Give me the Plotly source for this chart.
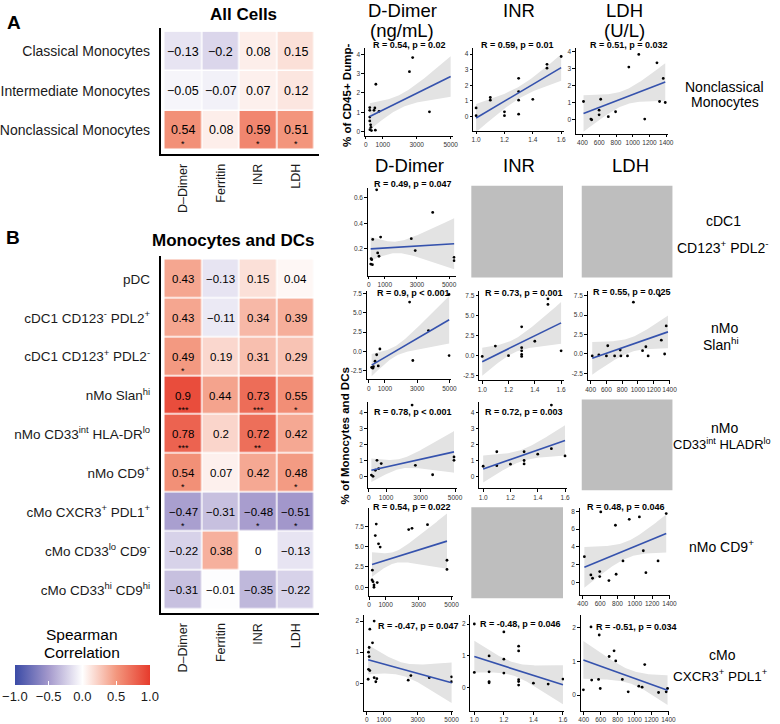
import numpy as np
import plotly.graph_objects as go

W, H = 780, 724
FONT = "Liberation Sans, Arial, Helvetica, sans-serif"

# ------------------------------------------------------------------ heatmap data
markers = ["D–Dimer", "Ferritin", "INR", "LDH"]

all_rows = ["Classical Monocytes", "Intermediate Monocytes", "Nonclassical Monocytes"]
all_r = [[-0.13, -0.2, 0.08, 0.15],
         [-0.05, -0.07, 0.07, 0.12],
         [0.54, 0.08, 0.59, 0.51]]
all_sig = [["", "", "", ""],
           ["", "", "", ""],
           ["*", "", "*", "*"]]

mono_rows = ["pDC",
             "cDC1 CD123<sup>-</sup> PDL2<sup>+</sup>",
             "cDC1 CD123<sup>+</sup> PDL2<sup>-</sup>",
             "nMo Slan<sup>hi</sup>",
             "nMo CD33<sup>int</sup> HLA-DR<sup>lo</sup>",
             "nMo CD9<sup>+</sup>",
             "cMo CXCR3<sup>+</sup> PDL1<sup>+</sup>",
             "cMo CD33<sup>lo</sup> CD9<sup>-</sup>",
             "cMo CD33<sup>hi</sup> CD9<sup>hi</sup>"]
mono_r = [[0.43, -0.13, 0.15, 0.04],
          [0.43, -0.11, 0.34, 0.39],
          [0.49, 0.19, 0.31, 0.29],
          [0.9, 0.44, 0.73, 0.55],
          [0.78, 0.2, 0.72, 0.42],
          [0.54, 0.07, 0.42, 0.48],
          [-0.47, -0.31, -0.48, -0.51],
          [-0.22, 0.38, 0, -0.13],
          [-0.31, -0.01, -0.35, -0.22]]
mono_sig = [["", "", "", ""],
            ["", "", "", ""],
            ["*", "", "", ""],
            ["***", "", "***", "*"],
            ["***", "", "**", ""],
            ["*", "", "", "*"],
            ["*", "", "*", "*"],
            ["", "", "", ""],
            ["", "", "", ""]]

cbar_ticks = [-1.0, -0.5, 0.0, 0.5, 1.0]

# ------------------------------------------------------------------ scatter data
# Nonclassical monocytes (% of CD45+ Dump-)
nc_dd_x = [230, 530, 230, 480, 230, 230, 280, 300, 240, 330, 560, 590, 780, 2570, 2760, 3750]
nc_dd_y = [1.24, 1.22, 1.1, 1.1, 0.75, 0.55, 0.35, 0.22, 0.1, 0.05, 0.07, 2.45, 1.05, 3.1, 3.83, 1.02]
nc_inr_x = [1.0, 1.0, 1.1, 1.1, 1.2, 1.2, 1.3, 1.3, 1.3, 1.3, 1.4, 1.5, 1.5, 1.6]
nc_inr_y = [0.55, 0.05, 1.22, 1.05, 0.3, 0.05, 2.45, 1.6, 1.05, 0.15, 1.1, 3.35, 3.1, 3.85]
nc_ldh_x = [412, 500, 510, 617, 598, 598, 708, 795, 953, 1072, 1143, 1289, 1320, 1364, 1388]
nc_ldh_y = [1.08, 0.05, 0.01, 1.21, 0.57, 0.3, 0.19, 0.48, 3.09, 3.83, 0.05, 3.34, 1.08, 2.43, 1.02]
# cDC1 CD123+ PDL2-
cdc_dd_x = [492, 246, 738, 554, 636, 144, 185, 123, 226, 2646, 2892, 3979, 5313, 5313]
cdc_dd_y = [0.664, 0.274, 0.293, 0.168, 0.142, 0.123, 0.115, 0.081, 0.076, 0.28, 0.187, 0.486, 0.134, 0.107]
# nMo Slan hi
sl_dd_x = [4980, 2530, 3700, 690, 490, 390, 2730, 590, 180, 290, 4980, 250]
sl_dd_y = [7.4, 6.4, 2.7, 0.3, -0.45, -1.3, -1.2, -1.9, -2.1, -2.0, -0.56, -2.2]
sl_inr_x = [1.0, 1.1, 1.2, 1.3, 1.3, 1.3, 1.3, 1.3, 1.4, 1.5, 1.5, 1.6]
sl_inr_y = [-0.1, 1.2, 0.0, 3.6, 1.0, 0.6, 0.15, -0.1, 1.8, 7.1, 6.4, 0.6]
sl_ldh_x = [420, 504, 600, 617, 704, 775, 783, 867, 942, 1058, 1100, 1129, 1275, 1296, 1338, 1358]
sl_ldh_y = [-0.25, -0.13, -0.25, 1.06, -0.25, 0.5, -0.25, -0.25, 6.65, 0.42, 0.93, -0.25, 7.5, 1.78, 0.0, 3.6]
# nMo CD33int HLADRlo
c33_dd_x = [2510, 247, 152, 475, 722, 380, 570, 2700, 3700, 4940, 4940]
c33_dd_y = [4.46, 0.0, 0.08, 1.0, 0.8, 0.38, 0.48, 0.69, 0.1, 1.21, 1.0]
c33_inr_x = [1.0, 1.1, 1.1, 1.2, 1.3, 1.3, 1.3, 1.4, 1.5, 1.5, 1.6]
c33_inr_y = [0.63, 1.54, 0.67, 0.76, 1.54, 0.99, 0.78, 1.39, 4.46, 1.73, 1.28]
# nMo CD9+
cd9_dd_x = [433, 374, 571, 669, 2400, 2600, 3540, 177, 236, 492, 197, 295, 295, 4720, 4720]
cd9_dd_y = [7.77, 6.36, 5.34, 4.94, 7.09, 7.25, 7.69, 0.89, 0.69, 0.57, 2.1, 0.28, 0.0, 3.32, 2.19]
cd9_ldh_x = [419, 494, 513, 596, 596, 608, 702, 777, 785, 864, 936, 1053, 1098, 1128, 1268, 1362]
cd9_ldh_y = [2.88, 0.82, 0.45, 1.2, 0.64, 7.93, 0.19, 6.43, 0.9, 2.4, 7.1, 7.37, 3.55, 1.08, 2.4, 7.74]
# cMo CXCR3+ PDL1+
cmo_dd_x = [177, 433, 335, 138, 98, 138, 98, 177, 79, 433, 591, 531, 2441, 2598, 3681, 5000, 5000]
cmo_dd_y = [1.74, 2.0, 1.3, 1.15, 1.0, 0.86, 0.45, 0.41, 0.13, 0.18, 0.15, 0.05, 0.1, 0.25, 0.18, 0.21, 0.05]
cmo_inr_x = [1.0, 1.0, 1.1, 1.1, 1.1, 1.1, 1.2, 1.2, 1.2, 1.3, 1.3, 1.3, 1.3, 1.3, 1.4, 1.5, 1.6]
cmo_inr_y = [0.47, 2.0, 0.99, 0.49, 0.18, 0.14, 1.75, 0.89, 0.45, 1.3, 1.15, 0.24, 0.18, 0.07, 0.13, 0.1, 0.26]
cmo_ldh_x = [396, 486, 494, 583, 575, 595, 700, 758, 778, 856, 925, 1120, 1050, 1089, 1373, 1389, 1283]
cmo_ldh_y = [0.16, 2.03, 0.45, 1.79, 0.47, 0.2, 1.15, 1.32, 1.02, 0.47, 0.1, 0.91, 0.27, 0.24, 0.1, 0.2, 0.08]

# fitted lm lines (x at ends, y at ends) and CI half-widths (left, narrowest, right)
fit_x = [[230, 5000], [1.0, 1.6], [412, 1388],
         [120, 5313],
         [180, 4980], [1.0, 1.6], [420, 1380],
         [150, 4940], [1.0, 1.6],
         [177, 4720], [419, 1362],
         [79, 5000], [1.0, 1.6], [396, 1389]]
fit_y = [[0.78, 2.85], [-0.1, 3.14], [0.38, 2.22],
         [0.2, 0.24],
         [-1.8, 4.1], [-0.75, 4.1], [-0.55, 2.84],
         [0.38, 1.53], [0.46, 2.25],
         [2.8, 5.67], [1.68, 5.5],
         [0.76, 0.02], [0.97, 0.08], [1.05, 0.15]]
ci_half = [[0.69, 0.35, 1.05], [0.9, 0.38, 0.85], [1.07, 0.43, 1.1],
           [0.093, 0.045, 0.2],
           [1.45, 0.65, 3.1], [1.75, 0.83, 2.6], [2.1, 0.93, 2.1],
           [0.73, 0.31, 1.3], [0.84, 0.36, 0.95],
           [1.5, 0.7, 3.4], [2.3, 0.93, 2.15],
           [0.47, 0.21, 0.65], [0.5, 0.21, 0.62], [0.56, 0.2, 0.44]]
r_labels = ["R = 0.54, p = 0.02", "R = 0.59, p = 0.01", "R = 0.51, p = 0.032",
            "R = 0.49, p = 0.047",
            "R = 0.9, p < 0.001", "R = 0.73, p = 0.001", "R = 0.55, p = 0.025",
            "R = 0.78, p < 0.001", "R = 0.72, p = 0.003",
            "R = 0.54, p = 0.022", "R = 0.48, p = 0.046",
            "R = -0.47, p = 0.047", "R = -0.48, p = 0.046", "R = -0.51, p = 0.034"]

dd_ticks = [0, 1000, 3000, 5000]
inr_ticks = [1.0, 1.2, 1.4, 1.6]
ldh_ticks = [400, 600, 800, 1000, 1200, 1400]

series = [(nc_dd_x, nc_dd_y), (nc_inr_x, nc_inr_y), (nc_ldh_x, nc_ldh_y),
          (cdc_dd_x, cdc_dd_y),
          (sl_dd_x, sl_dd_y), (sl_inr_x, sl_inr_y), (sl_ldh_x, sl_ldh_y),
          (c33_dd_x, c33_dd_y), (c33_inr_x, c33_inr_y),
          (cd9_dd_x, cd9_dd_y), (cd9_ldh_x, cd9_ldh_y),
          (cmo_dd_x, cmo_dd_y), (cmo_inr_x, cmo_inr_y), (cmo_ldh_x, cmo_ldh_y)]

# ------------------------------------------------------------------ layout specs (pixels)
P = [
    dict(xd=(366, 455), yd=(47, 135), xr=[-60, 5114], yr=[-0.22, 4.33], xt=dd_ticks, xf="d", yt=[0, 1, 2, 3, 4], yf="d", lab=(372, 44)),
    dict(xd=(476, 568), yd=(47, 130), xr=[0.98, 1.62], yr=[-0.92, 4.4], xt=inr_ticks, xf=".1f", yt=[0, 1, 2, 3, 4], yf="d", lab=(482, 44)),
    dict(xd=(580, 673), yd=(47, 133), xr=[320, 1415], yr=[-0.81, 4.21], xt=ldh_ticks, xf="d", yt=[0, 1, 2, 3, 4], yf="d", lab=(592, 44)),
    dict(xd=(369, 458), yd=(187, 275), xr=[-60, 5400], yr=[-0.01, 0.68], xt=dd_ticks, xf="d", yt=[0.2, 0.4, 0.6], yf=".1f", lab=(373, 183)),
    dict(xd=(368, 453), yd=(290, 379), xr=[-120, 5070], yr=[-3.67, 7.9], xt=dd_ticks, xf="d", yt=[-2.5, 0, 2.5, 5, 7.5], yf=".1f", lab=(376, 292)),
    dict(xd=(482, 568), yd=(290, 380), xr=[0.977, 1.622], yr=[-3.1, 8.13], xt=inr_ticks, xf=".1f", yt=[-2.5, 0, 2.5, 5, 7.5], yf=".1f", lab=(486, 292)),
    dict(xd=(592, 676), yd=(290, 380), xr=[362, 1412], yr=[-3.4, 8.14], xt=ldh_ticks, xf="d", yt=[-2.5, 0, 2.5, 5, 7.5], yf=".1f", lab=(595, 291)),
    dict(xd=(369, 459), yd=(402, 488), xr=[-57, 5086], yr=[-0.75, 4.625], xt=dd_ticks, xf="d", yt=[0, 1, 2, 3, 4], yf="d", lab=(373, 412)),
    dict(xd=(482, 571), yd=(402, 488), xr=[0.971, 1.614], yr=[-0.75, 4.625], xt=inr_ticks, xf=".1f", yt=[0, 1, 2, 3, 4], yf="d", lab=(486, 412)),
    dict(xd=(370, 455), yd=(508, 596), xr=[-20, 5060], yr=[-1.1, 9.71], xt=dd_ticks, xf="d", yt=[0, 2.5, 5, 7.5], yf=".1f", lab=(372, 507)),
    dict(xd=(584, 676), yd=(508, 595), xr=[366, 1411], yr=[-1.46, 8.34], xt=ldh_ticks, xf="d", yt=[0, 2, 4, 6, 8], yf="d", lab=(589, 507)),
    dict(xd=(365, 455), yd=(615, 711), xr=[-175, 5058], yr=[-0.89, 2.19], xt=dd_ticks, xf="d", yt=[0, 1, 2], yf="d", lab=(377, 626)),
    dict(xd=(473, 568), yd=(615, 711), xr=[0.973, 1.607], yr=[-0.75, 2.28], xt=inr_ticks, xf=".1f", yt=[0, 1, 2], yf="d", lab=(481, 624)),
    dict(xd=(585, 675), yd=(615, 711), xr=[365, 1412], yr=[-0.47, 2.38], xt=ldh_ticks, xf="d", yt=[0, 1, 2], yf="d", lab=(598, 627)),
]
GRAY_BOXES = [(474, 567, 185, 277), (586, 678, 185, 277), (586, 678, 399, 490), (474, 567, 507, 598)]


def px(p):
    return p / W


def py(p):
    return 1 - p / H


def fmt(v, f):
    return format(int(round(v)), "d") if f == "d" else format(v, f)


def cell_text(v):
    return format(v, "g").replace("-", "−")


def ci_band(fxs, fys, hw, n=80):
    xl, xr = fxs
    hl, h0, hr = hw
    a = np.sqrt(max(hl ** 2 - h0 ** 2, 1e-12))
    b = np.sqrt(max(hr ** 2 - h0 ** 2, 1e-12))
    x0 = (b * xl + a * xr) / (a + b)
    k = (a + b) / (xr - xl)
    g = np.linspace(xl, xr, n)
    yf = fys[0] + (fys[1] - fys[0]) * (g - xl) / (xr - xl)
    h = np.sqrt(h0 ** 2 + (k * (g - x0)) ** 2)
    return g, yf - h, yf + h


fig = go.Figure()
ann = []
shapes = []
lay = {}

colorscale = [[0.0, "#3b4ba6"], [0.25, "#a499cc"], [0.5, "#ffffff"],
              [0.75, "#f3977e"], [1.0, "#e63b2c"]]

# ------------------------------------------------------------------ heatmaps
HEAT = [
    dict(rows=all_rows, r=all_r, sig=all_sig, ax="", yd=(27, 153), vs=12.5, fs=14),
    dict(rows=mono_rows, r=mono_r, sig=mono_sig, ax="2", yd=(255, 613), vs=11.5, fs=13.5),
]
for hm in HEAT:
    nr = len(hm["rows"])
    fig.add_trace(go.Heatmap(z=hm["r"], x=list(range(len(markers))), y=list(range(nr)),
                             coloraxis="coloraxis", xgap=1.5, ygap=1.5,
                             xaxis="x" + hm["ax"], yaxis="y" + hm["ax"], hoverinfo="skip"))
    lay["xaxis" + hm["ax"]] = dict(domain=[px(159), px(319)], range=[-0.6, 3.6],
                                   anchor="y" + hm["ax"], tickvals=list(range(len(markers))),
                                   ticktext=markers, tickangle=-90, showline=True, linewidth=2,
                                   linecolor="black", ticks="outside", ticklen=3,
                                   tickcolor="rgba(0,0,0,0)", showgrid=False, zeroline=False,
                                   tickfont=dict(size=12.5, color="#1a1a1a"))
    lay["yaxis" + hm["ax"]] = dict(domain=[py(hm["yd"][1]), py(hm["yd"][0])],
                                   range=[nr - 0.4, -0.6], anchor="x" + hm["ax"],
                                   tickvals=list(range(nr)), ticktext=hm["rows"],
                                   showline=True, linewidth=2, linecolor="black",
                                   ticks="outside", ticklen=6, tickcolor="rgba(0,0,0,0)",
                                   showgrid=False, zeroline=False,
                                   tickfont=dict(size=hm["fs"], color="#1a1a1a"))
    for i in range(nr):
        for j in range(len(markers)):
            ann.append(dict(x=j, y=i, xref="x" + hm["ax"], yref="y" + hm["ax"],
                            text=cell_text(hm["r"][i][j]), showarrow=False,
                            font=dict(size=hm["vs"], color="black")))
            if hm["sig"][i][j]:
                ann.append(dict(x=j, y=i, xref="x" + hm["ax"], yref="y" + hm["ax"],
                                text=hm["sig"][i][j], showarrow=False, yshift=-14,
                                font=dict(size=9, color="black")))

lay["coloraxis"] = dict(colorscale=colorscale, cmin=-1, cmax=1,
                        colorbar=dict(orientation="h", x=px(79.5), xanchor="center",
                                      y=py(665), yanchor="top", len=135, lenmode="pixels",
                                      thickness=20, thicknessmode="pixels", outlinewidth=0,
                                      ticks="inside", tickcolor="white", ticklen=4, tickwidth=1,
                                      tickvals=cbar_ticks,
                                      ticktext=[format(v, ".1f").replace("-", "−") for v in cbar_ticks],
                                      tickfont=dict(size=13, color="#1a1a1a"), xpad=0, ypad=0))

# ------------------------------------------------------------------ scatter panels
for i, ((xs, ys), spec) in enumerate(zip(series, P)):
    k = i + 3
    xa, ya = "x%d" % k, "y%d" % k
    g, lo, hi = ci_band(fit_x[i], fit_y[i], ci_half[i])
    fig.add_trace(go.Scatter(x=np.concatenate([g, g[::-1]]), y=np.concatenate([hi, lo[::-1]]),
                             fill="toself", fillcolor="#e3e3e3", line=dict(width=0),
                             mode="lines", xaxis=xa, yaxis=ya, hoverinfo="skip"))
    fig.add_trace(go.Scatter(x=xs, y=ys, mode="markers", marker=dict(size=2.8, color="black"),
                             xaxis=xa, yaxis=ya, hoverinfo="skip"))
    fig.add_trace(go.Scatter(x=fit_x[i], y=fit_y[i], mode="lines",
                             line=dict(color="#3552ad", width=1.6), xaxis=xa, yaxis=ya,
                             hoverinfo="skip"))
    common = dict(showline=True, linecolor="black", linewidth=1, ticks="outside", ticklen=2.5,
                  tickwidth=1, tickcolor="black", showgrid=False, zeroline=False, tickangle=0,
                  tickfont=dict(size=6.5, color="#333333"))
    lay["xaxis%d" % k] = dict(domain=[px(spec["xd"][0]), px(spec["xd"][1])], range=spec["xr"],
                              anchor=ya, tickvals=spec["xt"],
                              ticktext=[fmt(v, spec["xf"]) for v in spec["xt"]], **common)
    lay["yaxis%d" % k] = dict(domain=[py(spec["yd"][1]), py(spec["yd"][0])], range=spec["yr"],
                              anchor=xa, tickvals=spec["yt"],
                              ticktext=[fmt(v, spec["yf"]) for v in spec["yt"]], **common)
    ann.append(dict(x=px(spec["lab"][0]), y=py(spec["lab"][1]), xref="paper", yref="paper",
                    xanchor="left", yanchor="middle", showarrow=False,
                    text="<b>%s</b>" % r_labels[i], font=dict(size=9, color="black")))

for (x0, x1, y0, y1) in GRAY_BOXES:
    shapes.append(dict(type="rect", xref="paper", yref="paper", x0=px(x0), x1=px(x1),
                       y0=py(y1), y1=py(y0), fillcolor="#bebebe", line=dict(width=0), layer="below"))


def text(x, y, s, size, bold=False, angle=0, xanchor="center"):
    ann.append(dict(x=px(x), y=py(y), xref="paper", yref="paper", text=("<b>%s</b>" % s) if bold else s,
                    showarrow=False, xanchor=xanchor, yanchor="middle", textangle=angle,
                    font=dict(size=size, color="black")))


# titles and labels
text(10, 22, "A", 19, bold=True)
text(9, 237, "B", 19, bold=True)
text(243, 14, "All Cells", 17, bold=True)
text(232, 240, "Monocytes and DCs", 17, bold=True)
text(79, 634, "Spearman", 15.5)
text(79, 652, "Correlation", 15.5)

text(404, 10, "D-Dimer", 18.5)
text(404, 30, "(ng/mL)", 18.5)
text(522, 10, "INR", 18.5)
text(629, 10, "LDH", 18.5)
text(629, 30, "(U/L)", 18.5)
text(411, 165, "D-Dimer", 18.5)
text(522, 165, "INR", 18.5)
text(635, 165, "LDH", 18.5)

text(731, 86, "Nonclassical", 14)
text(731, 101, "Monocytes", 14)
text(730, 220, "cDC1", 14)
text(729, 246, "CD123<sup>+</sup> PDL2<sup>-</sup>", 14)
text(731, 327, "nMo", 14)
text(727, 343, "Slan<sup>hi</sup>", 14)
text(731, 428, "nMo", 14)
text(728, 444, "CD33<sup>int</sup> HLADR<sup>lo</sup>", 13)
text(728, 546, "nMo CD9<sup>+</sup>", 14)
text(729, 655, "cMo", 14)
text(727, 675, "CXCR3<sup>+</sup> PDL1<sup>+</sup>", 13.5)

text(348, 95, "% of CD45+ Dump-", 11.5, bold=True, angle=-90)
text(346, 436, "% of Monocytes and DCs", 11.5, bold=True, angle=-90)

fig.update_layout(width=W, height=H, margin=dict(l=0, r=0, t=0, b=0),
                  paper_bgcolor="white", plot_bgcolor="white", showlegend=False,
                  font=dict(family=FONT, color="black"), annotations=ann, shapes=shapes, **lay)

fig.write_html("out.html", config={"displayModeBar": False},
               post_script="document.body.style.margin='0px';document.body.style.padding='0px';")
